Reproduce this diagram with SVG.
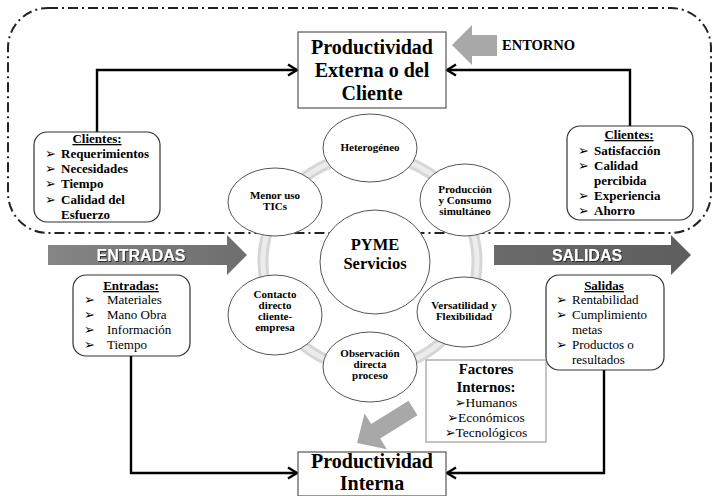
<svg xmlns="http://www.w3.org/2000/svg" width="714" height="496" viewBox="0 0 714 496" font-family="Liberation Serif, Times New Roman, serif">
<defs>
<marker id="ah" markerUnits="userSpaceOnUse" markerWidth="14" markerHeight="14" refX="11" refY="7" orient="auto">
<path d="M2,1.5 L11,7 L2,12.5" fill="none" stroke="#000" stroke-width="2.4" stroke-linejoin="miter"/>
</marker>
<filter id="ts" x="-10%" y="-30%" width="130%" height="160%">
<feDropShadow dx="1" dy="1" stdDeviation="0.6" flood-color="#222" flood-opacity="0.9"/>
</filter>
<linearGradient id="gin" x1="0" y1="0" x2="1" y2="0">
<stop offset="0" stop-color="#858585"/><stop offset="1" stop-color="#6e6e6e"/>
</linearGradient>
<linearGradient id="gout" x1="0" y1="0" x2="1" y2="0">
<stop offset="0" stop-color="#6a6a6a"/><stop offset="1" stop-color="#5e5e5e"/>
</linearGradient>
</defs>
<style>
.b{font-weight:bold}
.big{font-size:20px;font-weight:bold}
.lst{font-size:13px}
.el{font-size:11px;font-weight:bold;text-anchor:middle}
.box{fill:#fff;stroke:#333;stroke-width:1.2}
.pbox{fill:#fff;stroke:#555;stroke-width:1.2}
.ell{fill:#fff;stroke:#555;stroke-width:1}
.con{fill:none;stroke:#000;stroke-width:2.4}
.band{font-weight:bold;font-size:16px;fill:#fff;text-anchor:middle}
</style>

<rect id="entorno-boundary" x="8" y="8" width="703" height="225" rx="40" ry="40" fill="none" stroke="#222" stroke-width="2" stroke-dasharray="10 4 2 4"/>

<g id="ring">
<circle cx="370" cy="262" r="107" fill="none" stroke="#d6d6d6" stroke-width="11"/>
<circle cx="370" cy="262" r="107" fill="none" stroke="#ececec" stroke-width="5"/>
</g>

<g id="connectors">
<polyline class="con" points="97,132 97,70 297,70" marker-end="url(#ah)"/>
<polyline class="con" points="630,126 630,70 447,70" marker-end="url(#ah)"/>
<polyline class="con" points="131,356 131,473 297,473" marker-end="url(#ah)"/>
<polyline class="con" points="604,370 604,473 447,473" marker-end="url(#ah)"/>
</g>

<g id="prod-externa" font-family="Liberation Serif, serif">
<rect class="pbox" x="298" y="32" width="148" height="76"/>
<text class="big" x="372" y="54" text-anchor="middle">Productividad</text>
<text class="big" x="372" y="77" text-anchor="middle">Externa o del</text>
<text class="big" x="372" y="100" text-anchor="middle">Cliente</text>
</g>

<g id="entorno" font-family="Liberation Serif, serif">
<polygon points="452,45 472,25 472,35 497,35 497,56 472,56 472,65" fill="#a8a8a8"/>
<text class="b" x="502" y="50" font-size="14.5">ENTORNO</text>
</g>

<g id="clientes-izq" font-family="Liberation Serif, serif">
<rect class="box" x="34" y="132" width="126" height="90" rx="13"/>
<text class="b lst" x="97" y="143" text-anchor="middle" text-decoration="underline">Clientes:</text>
<text class="b lst" x="45" y="158"><tspan font-family="DejaVu Sans, sans-serif" font-size="13">➢</tspan><tspan x="61">Requerimientos</tspan></text>
<text class="b lst" x="45" y="173"><tspan font-family="DejaVu Sans, sans-serif" font-size="13">➢</tspan><tspan x="61">Necesidades</tspan></text>
<text class="b lst" x="45" y="188"><tspan font-family="DejaVu Sans, sans-serif" font-size="13">➢</tspan><tspan x="61">Tiempo</tspan></text>
<text class="b lst" x="45" y="204"><tspan font-family="DejaVu Sans, sans-serif" font-size="13">➢</tspan><tspan x="61">Calidad del</tspan></text>
<text class="b lst" x="61" y="219">Esfuerzo</text>
</g>

<g id="clientes-der" font-family="Liberation Serif, serif">
<rect class="box" x="567" y="126" width="126" height="94" rx="13"/>
<text class="b lst" x="629" y="139" text-anchor="middle" text-decoration="underline">Clientes:</text>
<text class="b lst" x="578" y="155"><tspan font-family="DejaVu Sans, sans-serif" font-size="13">➢</tspan><tspan x="594">Satisfacción</tspan></text>
<text class="b lst" x="578" y="170"><tspan font-family="DejaVu Sans, sans-serif" font-size="13">➢</tspan><tspan x="594">Calidad</tspan></text>
<text class="b lst" x="594" y="185">percibida</text>
<text class="b lst" x="578" y="200"><tspan font-family="DejaVu Sans, sans-serif" font-size="13">➢</tspan><tspan x="594">Experiencia</tspan></text>
<text class="b lst" x="578" y="215"><tspan font-family="DejaVu Sans, sans-serif" font-size="13">➢</tspan><tspan x="594">Ahorro</tspan></text>
</g>

<g id="entradas-arrow" font-family="Liberation Sans, Arial, sans-serif">
<polygon points="48,245 227,245 227,235 247,255 227,275 227,265 48,265" fill="url(#gin)"/>
<text class="band" x="141" y="261" filter="url(#ts)">ENTRADAS</text>
</g>

<g id="salidas-arrow" font-family="Liberation Sans, Arial, sans-serif">
<polygon points="494,245 671,245 671,235 691,255 671,275 671,265 494,265" fill="url(#gout)"/>
<text class="band" x="587" y="261" filter="url(#ts)">SALIDAS</text>
</g>

<g id="entradas" font-family="Liberation Serif, serif">
<rect class="box" x="73" y="275" width="117" height="81" rx="13"/>
<text class="b lst" x="131" y="290" text-anchor="middle" text-decoration="underline">Entradas:</text>
<text class="lst" x="84" y="304"><tspan font-family="DejaVu Sans, sans-serif" font-size="13">➢</tspan><tspan x="107">Materiales</tspan></text>
<text class="lst" x="84" y="319"><tspan font-family="DejaVu Sans, sans-serif" font-size="13">➢</tspan><tspan x="107">Mano Obra</tspan></text>
<text class="lst" x="84" y="334"><tspan font-family="DejaVu Sans, sans-serif" font-size="13">➢</tspan><tspan x="107">Información</tspan></text>
<text class="lst" x="84" y="349"><tspan font-family="DejaVu Sans, sans-serif" font-size="13">➢</tspan><tspan x="107">Tiempo</tspan></text>
</g>

<g id="salidas" font-family="Liberation Serif, serif">
<rect class="box" x="546" y="275" width="118" height="95" rx="13"/>
<text class="b lst" x="604" y="290" text-anchor="middle" text-decoration="underline">Salidas</text>
<text class="lst" x="556" y="304"><tspan font-family="DejaVu Sans, sans-serif" font-size="13">➢</tspan><tspan x="572">Rentabilidad</tspan></text>
<text class="lst" x="556" y="319"><tspan font-family="DejaVu Sans, sans-serif" font-size="13">➢</tspan><tspan x="572">Cumplimiento</tspan></text>
<text class="lst" x="572" y="334">metas</text>
<text class="lst" x="556" y="349"><tspan font-family="DejaVu Sans, sans-serif" font-size="13">➢</tspan><tspan x="572">Productos o</tspan></text>
<text class="lst" x="572" y="364">resultados</text>
</g>

<g id="heterogeneo" font-family="Liberation Serif, serif">
<ellipse class="ell" cx="370" cy="148" rx="47" ry="34"/>
<text class="el" x="370" y="151" font-size="11.5">Heterogéneo</text>
</g>
<g id="produccion" font-family="Liberation Serif, serif">
<ellipse class="ell" cx="465" cy="200" rx="45" ry="36"/>
<text class="el" x="465" y="193">Producción</text>
<text class="el" x="465" y="204">y Consumo</text>
<text class="el" x="465" y="215">simultáneo</text>
</g>
<g id="versatilidad" font-family="Liberation Serif, serif">
<ellipse class="ell" cx="464" cy="312" rx="47" ry="35"/>
<text class="el" x="464" y="309">Versatilidad y</text>
<text class="el" x="464" y="320">Flexibilidad</text>
</g>
<g id="observacion" font-family="Liberation Serif, serif">
<ellipse class="ell" cx="370" cy="367" rx="47" ry="35"/>
<text class="el" x="370" y="357">Observación</text>
<text class="el" x="370" y="368">directa</text>
<text class="el" x="370" y="379">proceso</text>
</g>
<g id="contacto" font-family="Liberation Serif, serif">
<ellipse class="ell" cx="275" cy="315" rx="47" ry="40"/>
<text class="el" x="275" y="298">Contacto</text>
<text class="el" x="275" y="309">directo</text>
<text class="el" x="275" y="320">cliente-</text>
<text class="el" x="275" y="331">empresa</text>
</g>
<g id="menor-uso" font-family="Liberation Serif, serif">
<ellipse class="ell" cx="275" cy="202" rx="47" ry="34"/>
<text class="el" x="275" y="199">Menor uso</text>
<text class="el" x="275" y="210">TICs</text>
</g>
<g id="pyme" font-family="Liberation Serif, serif">
<ellipse class="ell" cx="375" cy="262" rx="55" ry="52"/>
<text class="b" x="375" y="250" font-size="16.5" text-anchor="middle">PYME</text>
<text class="b" x="375" y="269" font-size="16.5" text-anchor="middle">Servicios</text>
</g>

<g id="factores" font-family="Liberation Serif, serif">
<rect x="426" y="360" width="120" height="82" fill="#fff" stroke="#888" stroke-width="1"/>
<text class="b" x="486" y="374" font-size="15" text-anchor="middle">Factores</text>
<text class="b" x="486" y="392" font-size="15" text-anchor="middle">Internos:</text>
<text x="486" y="407" font-size="13.5" text-anchor="middle"><tspan font-family="DejaVu Sans, sans-serif" font-size="13">➢</tspan>Humanos</text>
<text x="486" y="422" font-size="13.5" text-anchor="middle"><tspan font-family="DejaVu Sans, sans-serif" font-size="13">➢</tspan>Económicos</text>
<text x="486" y="437" font-size="13.5" text-anchor="middle"><tspan font-family="DejaVu Sans, sans-serif" font-size="13">➢</tspan>Tecnológicos</text>
</g>

<g id="factores-arrow">
<polygon points="0,-8.5 44,-8.5 44,-21 66,0 44,21 44,8.5 0,8.5" fill="#a8a8a8" transform="translate(413,408) rotate(148)"/>
</g>

<g id="prod-interna" font-family="Liberation Serif, serif">
<rect class="pbox" x="298" y="452" width="148" height="44"/>
<text class="big" x="372" y="468" text-anchor="middle">Productividad</text>
<text class="big" x="372" y="490" text-anchor="middle">Interna</text>
</g>
</svg>
